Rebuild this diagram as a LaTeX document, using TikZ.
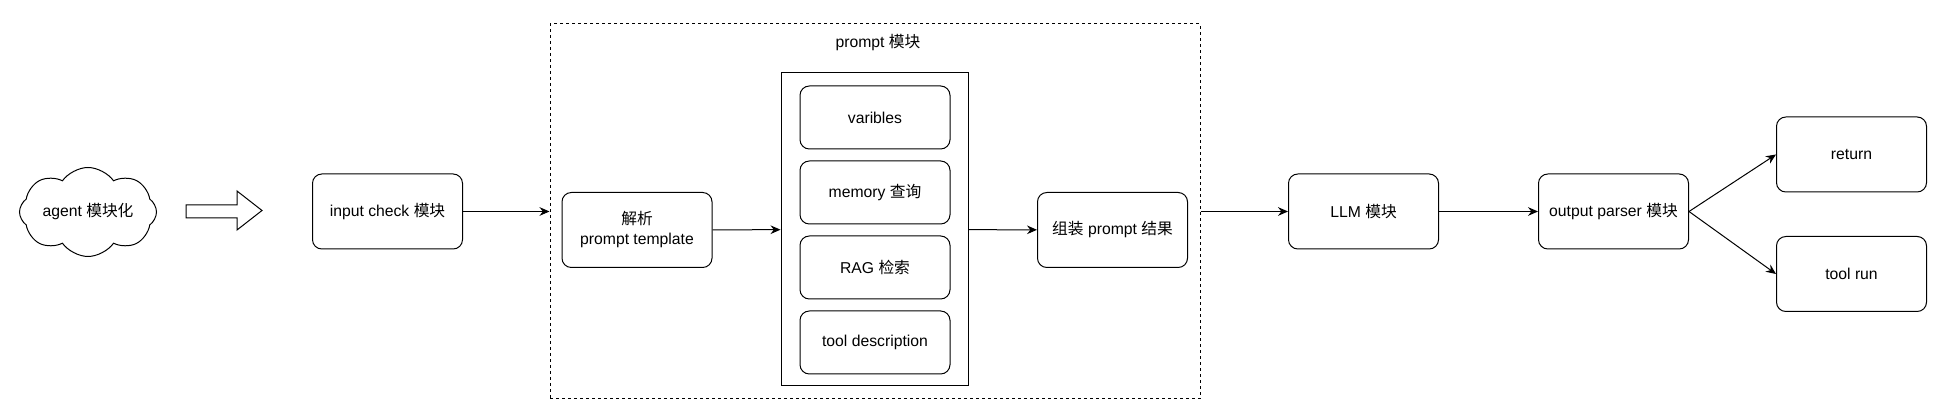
\documentclass[tikz,border=0pt]{standalone}
\usepackage{fontspec}
\setmainfont{Liberation Sans}
\newfontfamily\cjk{Noto Sans CJK SC}
\usetikzlibrary{shapes.symbols,arrows.meta}

\begin{document}
\begin{tikzpicture}[x=7.5pt,y=7.5pt]
\tikzset{ >={Stealth[length=7.5pt,width=6.5pt,inset=2.5pt]}, font=\fontsize{11.8}{15}\selectfont,
  line/.style={line width=0.75pt},
  box/.style={draw, line, rounded corners=7pt, minimum width=112.5pt, minimum height=56.25pt, align=center, inner sep=2pt},
  sub/.style={box, minimum height=47.25pt},
  link/.style={->, line},
}

\useasboundingbox (0,0) rectangle (194.2,42);

% agent
\node [draw, line, cloud, cloud puffs=8, cloud puff arc=110, cloud ignores aspect,
       minimum width=102.75pt, minimum height=66.75pt, inner sep=0pt] (A) at (8.8,20.8) {agent {\cjk 模块化}};
\draw [line] (18.6,21.5) -- (23.7,21.5) -- (23.7,22.9) -- (26.2,20.95)
   -- (23.7,19.0) -- (23.7,20.2) -- (18.6,20.2) -- cycle;

\node [box] (I) at (38.75,20.85) {input check {\cjk 模块}};

% prompt
\node [draw, line, dash pattern=on 2.25pt off 2.25pt, minimum width=487.5pt, minimum height=281.25pt] (P) at (87.5,20.85) {};
\node (PT) at (87.8,37.7) {prompt {\cjk 模块}};

\node [box] (T) at (63.7,19.0) {{\cjk 解析}\\prompt template};
\node [draw, line, minimum width=140.25pt, minimum height=234.75pt] (S) at (87.45,19.05) {};
\node [sub] (V) at (87.5,30.25) {varibles};
\node [sub] (M) at (87.5,22.75) {memory {\cjk 查询}};
\node [sub] (R) at (87.5,15.25) {RAG {\cjk 检索}};
\node [sub] (D) at (87.5,7.75)  {tool description};
\node [box] (C) at (111.25,19.0) {{\cjk 组装} prompt {\cjk 结果}};

\node [box] (L) at (136.35,20.85) {LLM {\cjk 模块}};
\node [box] (O) at (161.35,20.85) {output parser {\cjk 模块}};
\node [box] (Ret) at (185.15,26.55) {return};
\node [box] (Run) at (185.15,14.6) {tool run};

\draw [link] (I) -- (P);
\draw [link] (T) -- (S);
\draw [link] (S) -- (C);
\draw [link] (P) -- (L);
\draw [link] (L) -- (O);
\draw [link] (O.east) -- (Ret.west);
\draw [link] (O.east) -- (Run.west);

\end{tikzpicture}
\end{document}
